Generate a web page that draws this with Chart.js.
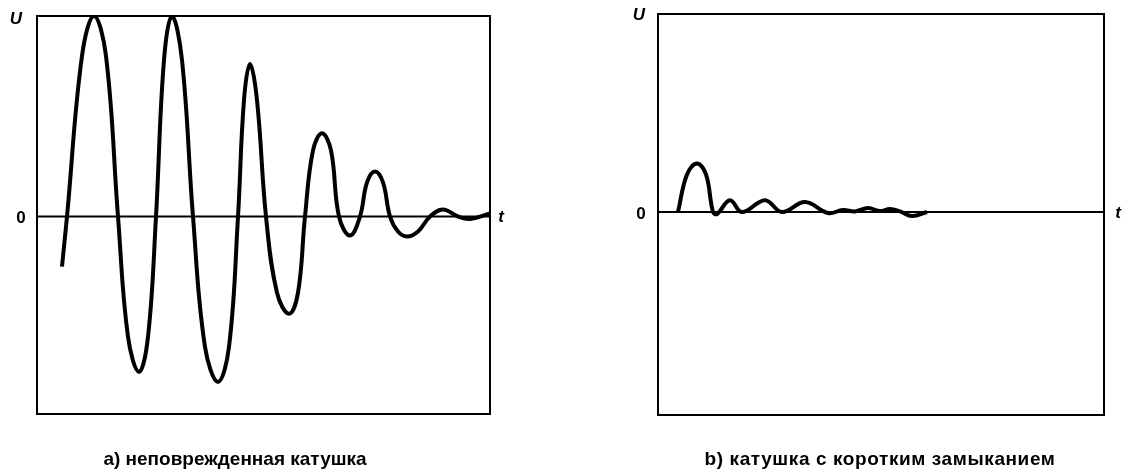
<!DOCTYPE html>
<html>
<head>
<meta charset="utf-8">
<script src="https://cdn.jsdelivr.net/npm/chart.js@4/dist/chart.umd.min.js"></script>
<style>
  html, body { margin:0; padding:0; background:#fff; }
  #wrap { position:relative; width:1128px; height:475px; overflow:hidden; }
  .pane { position:absolute; top:0; width:564px; height:475px; }
  .caption { position:absolute; top:448px; font:bold 19px "Liberation Sans", Arial, sans-serif; color:#000; white-space:nowrap; transform:translateX(-50%); }
</style>
</head>
<body>
<div id="wrap">
  <div class="pane" style="left:0"><canvas id="chartA" width="564" height="475"></canvas></div>
  <div class="pane" style="left:564px"><canvas id="chartB" width="564" height="475"></canvas></div>
  <div class="caption" style="left:235px">а) неповрежденная катушка</div>
  <div class="caption" style="left:880px;letter-spacing:0.6px">b) катушка с коротким замыканием</div>
</div>
<script>
/* ----------------- Data ----------------- */
// a) undamaged coil: time (arbitrary units) and voltage (relative)
const tA = [25, 30, 45, 57, 69, 81, 91, 102, 111, 119, 127, 135, 145, 156, 168, 181, 192, 201, 207, 213, 220, 229,
            240, 252, 261, 268, 276, 285, 294, 302, 313, 323, 330, 338, 346, 353, 361, 370, 381, 393, 406, 421, 433, 453];
const uA = [-0.25, 0, 0.8, 1.0, 0.8, 0, -0.6, -0.775, -0.6, 0, 0.78, 1.0, 0.78, 0, -0.65, -0.825, -0.65, 0, 0.58, 0.76, 0.58, 0,
            -0.38, -0.485, -0.38, 0, 0.33, 0.415, 0.33, 0, -0.095, 0, 0.17, 0.225, 0.17, 0, -0.075, -0.1, -0.075, 0, 0.035, 0, -0.012, 0.015];

// b) coil with short circuit
const tB = [20, 29, 39, 48, 55, 59, 72, 84, 107, 124, 147, 170, 185, 197, 210, 222, 232, 242, 254, 269];
const uB = [0, 0.19, 0.245, 0.19, 0, -0.01, 0.06, 0, 0.06, 0, 0.05, -0.005, 0.01, 0.003, 0.02, 0.005, 0.015, 0.003, -0.02, 0];

const tMaxA = 453, tMaxB = 446;

/* ----------------- Helpers ----------------- */
const toPoints = (xs, ys) => xs.map((x, i) => ({ x, y: ys[i] }));

const frameLabels = {
  id: 'frameLabels',
  afterDraw(chart, args, o) {
    const { ctx, chartArea: a, scales } = chart;
    const y0 = scales.y.getPixelForValue(0);
    ctx.save();
    ctx.strokeStyle = '#000';
    ctx.lineWidth = 2;
    ctx.strokeRect(a.left, a.top, a.right - a.left, a.bottom - a.top);
    ctx.fillStyle = '#000';
    ctx.textAlign = 'center';
    ctx.textBaseline = 'middle';
    ctx.font = 'italic bold 17px "Liberation Sans", Arial, sans-serif';
    ctx.fillText('U', a.left + o.uDx, a.top + o.uDy);
    ctx.fillText('t', a.right + o.tDx, y0 + 1);
    ctx.font = 'bold 17px "Liberation Sans", Arial, sans-serif';
    ctx.fillText('0', a.left + o.zDx, y0 + 2);
    ctx.restore();
  }
};

function makeChart(id, xs, ys, tMax, yMin, pad, lab) {
  return new Chart(document.getElementById(id), {
    type: 'line',
    data: {
      datasets: [
        { data: toPoints(xs, ys), borderColor: '#000', borderWidth: 4, pointRadius: 0,
          tension: 0.4, fill: false, order: 1 },
        { data: [{ x: 0, y: 0 }, { x: tMax, y: 0 }], borderColor: '#000', borderWidth: 2,
          pointRadius: 0, fill: false, order: 2 }
      ]
    },
    options: {
      responsive: false,
      animation: false,
      layout: { padding: pad },
      plugins: { legend: { display: false }, tooltip: { enabled: false }, frameLabels: lab },
      scales: {
        x: { type: 'linear', min: 0, max: tMax, display: false },
        y: { min: yMin, max: 1, display: false }
      }
    },
    plugins: [frameLabels]
  });
}

makeChart('chartA', tA, uA, tMaxA, -0.985,
  { left: 37, right: 74, top: 16, bottom: 61 },
  { uDx: -21, uDy: 3, zDx: -16, tDx: 11 });
makeChart('chartB', tB, uB, tMaxB, -1.025,
  { left: 94, right: 24, top: 14, bottom: 60 },
  { uDx: -19, uDy: 1, zDx: -17, tDx: 14 });
</script>
</body>
</html>
